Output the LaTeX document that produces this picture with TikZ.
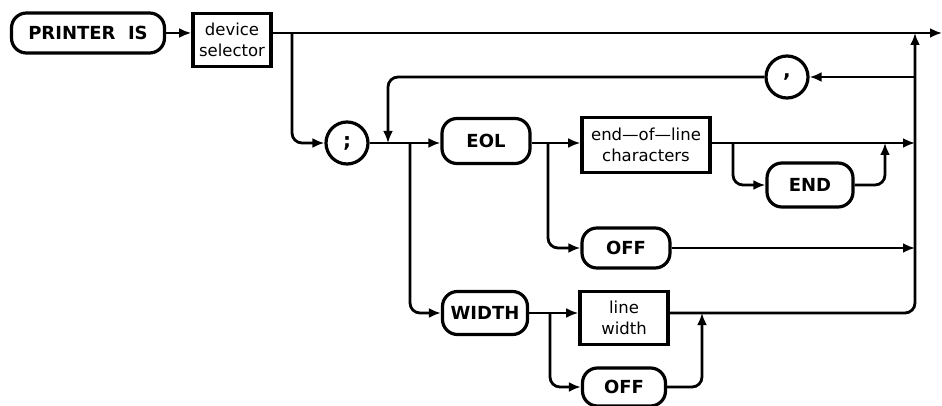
\documentclass[tikz,border=0pt]{standalone}
\usepackage{fontspec}
\setsansfont{DejaVu Sans}
\usetikzlibrary{arrows.meta}

\tikzset{
  kw/.style={draw, line width=3.2pt, rounded corners=15pt, minimum height=42pt,
    font=\sffamily\bfseries\fontsize{18}{20}\selectfont, inner sep=0pt},
  parm/.style={draw, line width=3.6pt, align=center, inner sep=0pt,
    font=\sffamily\fontsize{16.5}{21}\selectfont},
  lit/.style={draw, circle, line width=3.2pt, minimum size=42pt, inner sep=0pt,
    font=\sffamily\bfseries\fontsize{20}{22}\selectfont},
  arr/.style={-{Latex[length=12pt,width=10pt]}, line width=2.8pt, rounded corners=10pt}
}

\begin{document}
\begin{tikzpicture}[x=1pt, y=-1pt]
  \useasboundingbox (0,0) rectangle (942,406);
  \node[kw, minimum width=153pt, minimum height=40pt] (printer) at (88,33) {PRINTER\ \ IS};
  \node[parm, minimum width=78pt, minimum height=53pt] (devsel) at (232,40) {device\\selector};
  \node[lit] (semi) at (347,143) {;};
  \node[lit] (comma) at (787,77) {,};
  \node[kw, minimum width=88pt, minimum height=45pt] (eol) at (486,141) {EOL};
  \node[parm, minimum width=128pt, minimum height=55pt] (eolchars) at (646,145) {end---of---line\\characters};
  \node[kw, minimum width=86pt, minimum height=44pt] (endkw) at (810,185) {END};
  \node[kw, minimum width=88pt, minimum height=40pt] (offa) at (626,248) {OFF};
  \node[kw, minimum width=85pt, minimum height=43pt] (widthkw) at (485,313) {WIDTH};
  \node[parm, minimum width=88pt, minimum height=53pt] (linew) at (624,318) {line\\width};
  \node[kw, minimum width=83pt, minimum height=38pt] (offb) at (624,387) {OFF};

  \coordinate (exit) at (942,33);
  \coordinate (split) at (292,33);
  \coordinate (rail) at (915,33);
  \coordinate (loopin) at (388,143);
  \coordinate (wsplit) at (410,143);
  \coordinate (esplit) at (548,143);
  \coordinate (csplit) at (733,143);
  \coordinate (cjoin) at (885,143);
  \coordinate (osplit) at (550,313);
  \coordinate (ojoin) at (702,313);

  \draw[arr] (printer.east) -- (printer.east -| devsel.west);
  \draw[arr] (devsel.east |- printer) -- (exit);
  \draw[arr] (split) |- (semi.west);
  \draw[arr] (semi.east) -- (semi.east -| eol.west);
  \draw[arr] (rail |- comma) -- (comma.east);
  \draw[arr] (comma.west) -| (loopin);
  \draw[arr] (eol.east |- semi) -- (eolchars.west |- semi);
  \draw[arr] (eolchars.east |- semi) -- (rail |- semi);
  \draw[arr] (csplit) |- (endkw.west);
  \draw[arr] (endkw.east) -| (cjoin);
  \draw[arr] (esplit) |- (offa.west);
  \draw[arr] (offa.east) -- (rail |- offa);
  \draw[arr] (wsplit) |- (widthkw.west);
  \draw[arr] (widthkw.east) -- (widthkw.east -| linew.west);
  \draw[arr] (osplit) |- (offb.west);
  \draw[arr] (offb.east) -| (ojoin);
  \draw[arr] (linew.east |- widthkw) -| (rail);
\end{tikzpicture}
\end{document}
